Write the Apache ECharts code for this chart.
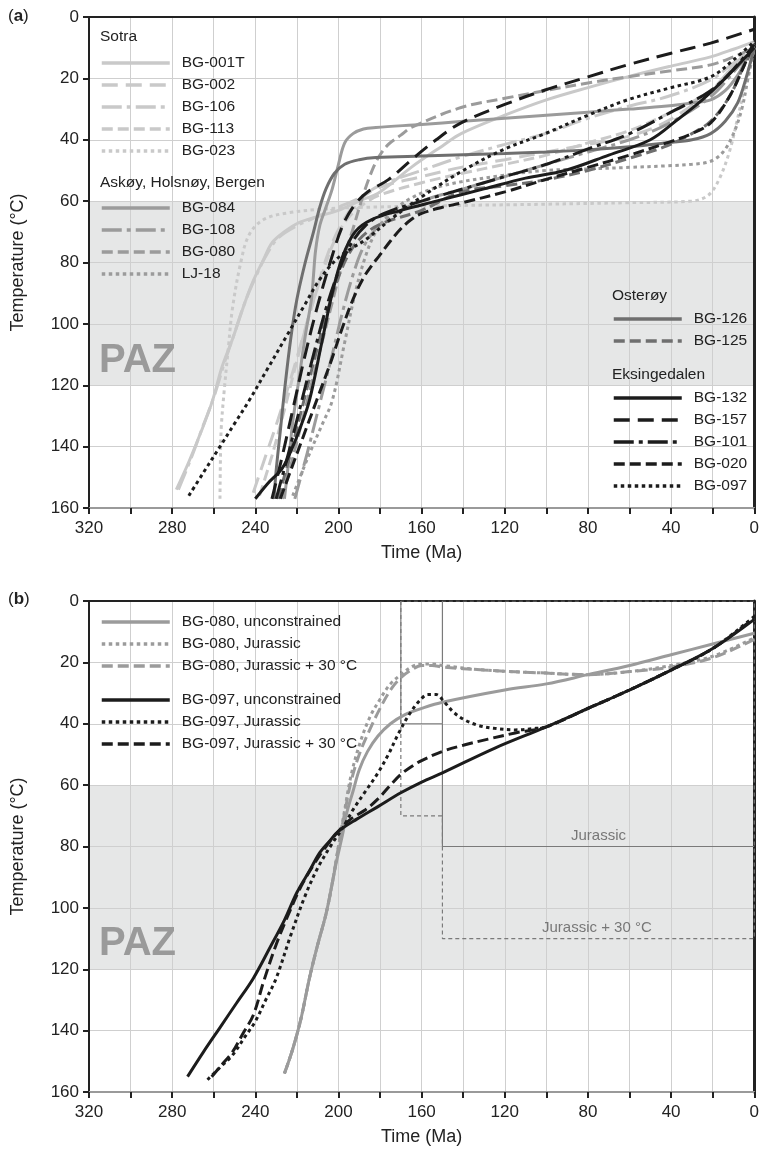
<!DOCTYPE html>
<html><head><meta charset="utf-8">
<script src="https://cdn.jsdelivr.net/npm/echarts/dist/echarts.min.js"></script>
<style>html,body{margin:0;padding:0;background:#fff}#c{width:762px;height:1155px}</style>
</head><body><div id="c"></div><script>
// ---------- tick labels ----------
const timeLabels = [320, 280, 240, 200, 160, 120, 80, 40, 0];
const tempLabels = [0, 20, 40, 60, 80, 100, 120, 140, 160];
const pazRange = [60, 120];

// ---------- panel (a) : [time Ma, temperature °C] ----------
// Sotra
const BG_001T = [[278,154],[272,145],[266,135],[260.6,125],[256,114],[251,105],[246,95],[241.4,86.6],[236,79],[232,73.6],[226,70],[219,67],[210,65],[200,63],[190,60],[180,57],[165,49],[150,42],[141,38],[120,32],[100,27],[80,23],[61,19.5],[40,16],[21,13],[10,10.5],[0,8]];
const BG_002  = [[241,155],[235,143],[229,131],[223,118],[217,104],[211,90],[205,77],[199,68],[192,61],[182,56],[160,52],[141,49],[120,46.5],[100,44],[80,41.5],[61,39],[42,34],[21,24],[10,16],[0,9]];
const BG_106  = [[277,154],[271,144],[265,133],[260,124],[255,113],[250,103],[245,93],[240,85],[235,78],[229,72],[220,68],[210,65],[200,62],[190,59],[180.6,55],[160,50],[141,45.6],[120,41.5],[100.6,38],[80,33],[60,29],[42,26],[21,20.5],[10,15],[0,10]];
const BG_113  = [[238,156],[232,143],[226,128],[220,112],[214,97],[208,84],[202,73],[196,66],[188,61],[180,58],[160,54],[141,51],[120,48],[100,45],[80,41],[60,37],[40,31],[21,24],[10,16],[0,9]];
const BG_023  = [[257,157],[256.8,145],[256.4,134],[255,122],[253,108],[251,95],[247,80],[243,71],[236,66],[224,63.8],[205,62.5],[187,62],[150,61.5],[100,61],[60,60.5],[30,60],[22,58],[17,53],[12,44],[8,33],[4,21],[0,10]];
// Askøy, Holsnøy, Bergen
const BG_084  = [[226,157],[224,145],[222,132],[219,118],[216,104],[213,92],[212,84],[211,76],[209,68],[206,62],[203,56],[200,48],[197,41],[193,38],[188,36.5],[182,36],[160,35],[140,34],[120,33],[100,32],[80,31],[60,30],[42,29],[30,28],[21,27],[14,24],[8,19],[4,14],[0,10]];
const BG_108  = [[221,157],[215,142],[209,126],[203,110],[198,96],[193,84],[188,75],[182,69],[175,65],[160,60],[140,56],[120,52],[100,48],[80,44],[60,40],[42,35],[21,26],[10,18],[0,10]];
const BG_080  = [[227,157],[221,141],[215,125],[209,109],[203,93],[198,80],[193,69],[189,60],[185,52],[181,46],[176,41.5],[170,38.5],[165,36],[141,29.5],[120,26.5],[100.6,24],[80,21.5],[61,19.5],[40,17.5],[21,15.6],[10,13],[0,10]];
const LJ_18   = [[222,156],[215,144],[208,133],[203,125],[197,106],[192,90],[187,78],[182,70],[175,64],[165,59],[150,55],[120,51.5],[100,50],[80,49.5],[60,49],[42,48.5],[30,48],[21,47],[15,44],[10,38],[6,30],[3,20],[0,10]];
// Osterøy
const BG_126  = [[231,157],[230,148],[228,135],[226,122],[223,105],[220,92],[216,80],[212,70],[209,62],[206,56],[202,51],[197,48],[190,46.5],[182,45.8],[160,45.3],[120,44.5],[100,44],[80,43.3],[60,42.3],[42,41],[30,40],[21,38],[14,34],[8,28],[4,20],[0,10]];
const BG_125  = [[229,157],[223,142],[217,126],[211,110],[205,95],[199,83],[193,75],[186,70],[178,67],[160,63],[141,57],[120,55],[100,53],[80,50],[60,46],[42,42],[30,38],[21,34],[12,26],[5,16],[0,10]];
// Eksingedalen
const BG_132  = [[240,157],[234,152],[227,147],[222,140],[219,135],[214,125],[208,106],[203,90],[198,78],[192,70],[184,66],[170,63],[153,60],[130,56],[110,52.5],[91,50],[70,45],[50,40],[37,33.5],[25,27],[14,20],[0,10]];
const BG_157  = [[232,157],[227,143],[222,128],[216,110],[210,94],[204,80],[198,68],[192,61],[186,57],[176,53],[165,46.6],[153,40],[141,34.5],[120,28.5],[100.6,23.8],[80,19.5],[61,15.6],[40,11.8],[21,8.5],[0,4]];
const BG_101  = [[230,157],[224,142],[218,126],[212,110],[206,95],[200,83],[194,74],[187,68],[178,64],[160,60],[140,56],[120,52],[100,48],[80,43],[60,38],[40,31],[21,24],[10,17],[0,9]];
const BG_020  = [[228,157],[222,146],[216,135],[210,124],[204,113],[198,101],[193,92],[188,85],[184,81],[180.6,78],[175,73],[170,69],[165,66],[160,64],[150,62],[141,60.6],[120,57],[100.6,53],[80,49],[60,45],[42,41],[30,38],[21,34.5],[12,26],[5,16],[0,8]];
const BG_097  = [[272,156],[265,148.5],[257,140],[250,132.5],[243,125],[234,114.5],[225,104],[216,93.5],[209,85.5],[201,79],[194,75.5],[187,72.6],[175,66],[160,58.6],[140,50],[120,43],[100.6,38],[80,32],[61,27],[40,23],[21,19.5],[10,14],[0,8]];

// ---------- panel (b) ----------
const B080_unc = [[226,154],[222,146],[218,136],[214,123],[210,112],[206,102],[203,92],[201,85],[198,76],[196,69],[193,62],[190,55],[186,49],[181,44],[175,40],[168,37],[160,35],[150,33],[120,29],[100,27],[80,24],[60,21],[40,17.5],[20,14],[0,10.5]];
const B080_jur = [[226,154],[222,146],[218,136],[214,123],[210,112],[206,102],[203,92],[200,80],[197,68],[194,57],[190,47],[185,38],[180,32],[175,27],[170,24],[165,21.5],[160,20.5],[155,20.5],[150,21],[130,22.5],[100,23.5],[80,24],[60,23],[40,21],[20,18],[0,12]];
const B080_j30 = [[226,154],[222,146],[218,136],[214,123],[210,112],[206,102],[203,92],[200,80],[197,69],[194,59],[190,50],[185,42],[180,35],[175,29],[170,25],[165,22.5],[160,21],[155,21],[150,21.5],[130,22.5],[100,23.5],[80,24],[60,23],[40,21.5],[20,18.5],[0,12.5]];
const B097_unc = [[272.6,155],[265,147],[257,139],[249,131],[241,123],[233,113],[226,104],[220,95],[214,88],[209,82],[204,78],[200,75],[191,71],[181,67],[170,62.5],[160,59],[150,56],[125,48],[100,41],[80,35],[60,29],[40,22.5],[20,15.5],[0,6]];
const B097_jur = [[263,156],[257,152],[251,148],[245,142],[240,137],[235,130],[230,123],[223,109],[216,96],[210,87],[203,79],[198,74],[193,68],[187,62],[181,56],[176,50],[171,43],[166,37],[161,32.5],[157,30.5],[153,30.5],[149,33],[145,36],[140,38.5],[133,40.5],[125,41.5],[115,42],[105,41.5],[100,41],[80,35],[60,29],[40,22.5],[20,15.5],[0,5]];
const B097_j30 = [[261,155],[256,151],[251,147],[246,141],[241,135],[236,124],[230,112],[224,102],[218,93],[212,86],[206,80],[200,75],[194,71],[187,68],[181,64.5],[175,60],[170,56.5],[165,54],[160,52],[150,49],[140,47],[128,45],[115,43],[100,41],[80,35],[60,29],[40,22.5],[20,15.5],[0,5.5]];
// constraint boxes
const jurBox   = [[170,0],[170,40],[150,40],[150,80],[0,80]];
const jurBoxB  = [[150,0],[150,40]];
const jur30Box = [[170,0],[170,70],[150,70],[150,110],[0,110],[0,0],[170,0]];

// ---------- styles ----------
const FONT = '"Liberation Sans", Arial, Helvetica, sans-serif';
const C_SOT = '#c9c9c9', C_ASK = '#9b9b9b', C_OST = '#6f6f6f', C_EKS = '#1c1c1c';
const SOLID = 'solid', LONG = [16, 8], DASH = [11, 5], DASHDOT = [20, 5, 4, 5], DOT = [3.5, 3.5];

function curve(name, data, color, dash, gi, z) {
  return { name, type: 'line', xAxisIndex: gi * 2, yAxisIndex: gi * 2, data,
    smooth: 0.35, symbol: 'none', silent: true, z: z || 3,
    lineStyle: { color, width: 3, type: dash, cap: 'butt' }, itemStyle: { color } };
}
function boxLine(data, dash) {
  return { type: 'line', xAxisIndex: 2, yAxisIndex: 2, data, symbol: 'none', silent: true, z: 2,
    lineStyle: { color: '#7a7a7a', width: 1.2, type: dash } };
}

const series = [
  curve('BG-001T', BG_001T, C_SOT, SOLID, 0), curve('BG-002', BG_002, C_SOT, LONG, 0),
  curve('BG-106', BG_106, C_SOT, DASHDOT, 0), curve('BG-113', BG_113, C_SOT, DASH, 0),
  curve('BG-023', BG_023, C_SOT, DOT, 0),
  curve('BG-084', BG_084, C_ASK, SOLID, 0), curve('BG-108', BG_108, C_ASK, DASHDOT, 0),
  curve('BG-080', BG_080, C_ASK, DASH, 0), curve('LJ-18', LJ_18, C_ASK, DOT, 0),
  curve('BG-126', BG_126, C_OST, SOLID, 0), curve('BG-125', BG_125, C_OST, DASH, 0),
  curve('BG-132', BG_132, C_EKS, SOLID, 0), curve('BG-157', BG_157, C_EKS, LONG, 0),
  curve('BG-101', BG_101, C_EKS, DASHDOT, 0), curve('BG-020', BG_020, C_EKS, DASH, 0),
  curve('BG-097', BG_097, C_EKS, DOT, 0),
  boxLine(jurBox, 'solid'), boxLine(jurBoxB, 'solid'), boxLine(jur30Box, [4, 3]),
  curve('BG-080, unconstrained', B080_unc, C_ASK, SOLID, 1),
  curve('BG-080, Jurassic', B080_jur, C_ASK, DOT, 1),
  curve('BG-080, Jurassic + 30 °C', B080_j30, C_ASK, DASH, 1),
  curve('BG-097, unconstrained', B097_unc, C_EKS, SOLID, 1),
  curve('BG-097, Jurassic', B097_jur, C_EKS, DOT, 1),
  curve('BG-097, Jurassic + 30 °C', B097_j30, C_EKS, DASH, 1)
];

function legend(names, left, top) {
  return { data: names, orient: 'vertical', left, top, padding: 0, itemWidth: 68, itemHeight: 14, itemGap: 6,
    selectedMode: false,
    itemStyle: { color: 'rgba(0,0,0,0)', borderWidth: 0, opacity: 0 },
    lineStyle: { width: 3.5 },
    textStyle: { fontFamily: FONT, fontSize: 15.5, color: '#222', padding: [0, 0, 0, 7] } };
}

const pazColors = [0, 20, 40, 60, 80, 100, 120, 140].map(v => (v >= pazRange[0] && v < pazRange[1]) ? '#e6e7e7' : 'rgba(255,255,255,0)');

function axesFor(gi) {
  const xs = [{
    gridIndex: gi, type: 'value', min: 0, max: 320, interval: 20, inverse: true, position: 'bottom',
    axisLine: { show: true, onZero: false, lineStyle: { color: '#9a9a9a', width: 2 } },
    axisTick: { show: true, length: 6, lineStyle: { color: '#222', width: 2 } },
    axisLabel: { fontFamily: FONT, fontSize: 17, color: '#222', margin: 12,
      formatter: v => timeLabels.includes(v) ? String(v) : '' },
    splitLine: { show: true, lineStyle: { color: '#cfcfcf', width: 1 } },
    name: 'Time (Ma)', nameLocation: 'middle', nameGap: 36,
    nameTextStyle: { fontFamily: FONT, fontSize: 18, color: '#222' }
  }, {
    gridIndex: gi, type: 'value', min: 0, max: 320, inverse: true, position: 'top',
    axisLine: { show: true, onZero: false, lineStyle: { color: '#222', width: 2 } },
    axisTick: { show: false }, axisLabel: { show: false }, splitLine: { show: false }
  }];
  const ys = [{
    gridIndex: gi, type: 'value', min: 0, max: 160, interval: 20, inverse: true,
    axisLine: { show: true, onZero: false, lineStyle: { color: '#222', width: 2 } },
    axisTick: { show: true, length: 6, lineStyle: { color: '#222', width: 2 } },
    axisLabel: { fontFamily: FONT, fontSize: 17, color: '#222', margin: 10,
      formatter: v => tempLabels.includes(v) ? String(v) : '' },
    splitLine: { show: true, lineStyle: { color: '#cfcfcf', width: 1 } },
    splitArea: { show: true, areaStyle: { color: pazColors } },
    name: 'Temperature (°C)', nameLocation: 'middle', nameGap: 62, nameRotate: 90,
    nameTextStyle: { fontFamily: FONT, fontSize: 18, color: '#222' }
  }, {
    gridIndex: gi, type: 'value', min: 0, max: 160, inverse: true, position: 'right',
    axisLine: { show: true, onZero: false, lineStyle: { color: '#222', width: 3 } },
    axisTick: { show: false }, axisLabel: { show: false }, splitLine: { show: false }
  }];
  return { xs, ys };
}
const a0 = axesFor(0), a1 = axesFor(1);

function txt(text, left, y, size, color, weight) {
  return { type: 'text', left, top: y, silent: true, z: 100,
    style: { text, fontFamily: FONT, fontSize: size, fill: color, fontWeight: weight || 'normal' } };
}
function panelLabel(letter, y) {
  return { type: 'text', left: 8, top: y, silent: true, z: 100,
    style: { text: '({b|' + letter + '})', fontFamily: FONT, fontSize: 17, fill: '#222',
      rich: { b: { fontWeight: 'bold', fontSize: 17, fontFamily: FONT, fill: '#222' } } } };
}

const chart = echarts.init(document.getElementById('c'), null, { renderer: 'canvas' });
chart.setOption({
  animation: false,
  backgroundColor: '#fff',
  grid: [{ left: 89, top: 17, width: 668, height: 491 }, { left: 89, top: 601, width: 668, height: 491 }],
  xAxis: [...a0.xs, ...a1.xs],
  yAxis: [...a0.ys, ...a1.ys],
  legend: [
    legend(['BG-001T', 'BG-002', 'BG-106', 'BG-113', 'BG-023'], 100, 55),
    legend(['BG-084', 'BG-108', 'BG-080', 'LJ-18'], 100, 200),
    legend(['BG-126', 'BG-125'], 612, 311),
    legend(['BG-132', 'BG-157', 'BG-101', 'BG-020', 'BG-097'], 612, 390),
    legend(['BG-080, unconstrained', 'BG-080, Jurassic', 'BG-080, Jurassic + 30 °C'], 100, 614),
    legend(['BG-097, unconstrained', 'BG-097, Jurassic', 'BG-097, Jurassic + 30 °C'], 100, 692)
  ],
  graphic: [
    panelLabel('a', 8), panelLabel('b', 591),
    txt('Sotra', 100, 29, 15.5, '#222'),
    txt('Askøy, Holsnøy, Bergen', 100, 175, 15.5, '#222'),
    txt('Osterøy', 612, 288, 15.5, '#222'),
    txt('Eksingedalen', 612, 367, 15.5, '#222'),
    txt('PAZ', 99, 341, 40, '#9a9a9a', 'bold'),
    txt('PAZ', 99, 924, 40, '#9a9a9a', 'bold'),
    txt('Jurassic', 571, 828, 15, '#777'),
    txt('Jurassic + 30 °C', 542, 920, 15, '#777')
  ],
  series
});
</script></body></html>
